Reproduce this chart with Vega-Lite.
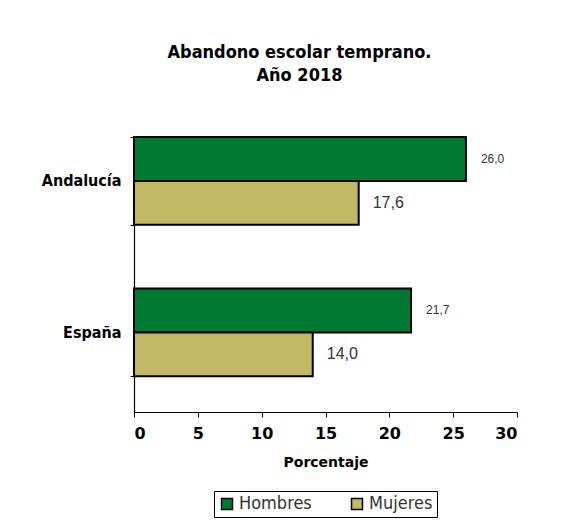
{
  "$schema": "https://vega.github.io/schema/vega-lite/v6.json",
  "width": 383,
  "height": 275,
  "padding": {"left": 41, "top": 44, "right": 5, "bottom": 5},
  "background": "white",
  "title": {
    "text": ["Abandono escolar temprano.", "Año 2018"],
    "font": "'DejaVu Sans Condensed', 'Liberation Sans', sans-serif",
    "fontSize": 18,
    "fontWeight": "bold",
    "color": "black",
    "anchor": "middle",
    "frame": "group",
    "dx": -26,
    "offset": 44,
    "lineHeight": 23
  },
  "data": {
    "values": [
      {"territorio": "Andalucía", "sexo": "Hombres", "porcentaje": 26.0},
      {"territorio": "Andalucía", "sexo": "Mujeres", "porcentaje": 17.6},
      {"territorio": "España", "sexo": "Hombres", "porcentaje": 21.7},
      {"territorio": "España", "sexo": "Mujeres", "porcentaje": 14.0}
    ]
  },
  "encoding": {
    "y": {
      "field": "territorio",
      "type": "nominal",
      "sort": ["Andalucía", "España"],
      "scale": {"paddingInner": 0.42, "paddingOuter": 0.1176, "align": 0},
      "axis": {
        "title": null,
        "domainColor": "black",
        "domainWidth": 1.2,
        "tickColor": "black",
        "tickSize": 4,
        "tickBand": "extent",
        "labelFont": "'DejaVu Sans Condensed', 'Liberation Sans', sans-serif",
        "labelFontSize": 16,
        "labelFontWeight": "bold",
        "labelColor": "black",
        "labelPadding": 9
      }
    },
    "yOffset": {
      "field": "sexo",
      "type": "nominal",
      "sort": ["Hombres", "Mujeres"],
      "scale": {"paddingInner": 0, "paddingOuter": 0}
    },
    "x": {
      "field": "porcentaje",
      "type": "quantitative",
      "scale": {"domain": [0, 30], "nice": false},
      "axis": {
        "values": [0, 5, 10, 15, 20, 25, 30],
        "format": "d",
        "grid": false,
        "title": "Porcentaje",
        "titleFont": "DejaVu Sans",
        "titleFontSize": 14,
        "titleFontWeight": "bold",
        "titleColor": "black",
        "titlePadding": 14,
        "domainColor": "black",
        "domainWidth": 1.2,
        "tickColor": "black",
        "tickSize": 5,
        "labelFont": "DejaVu Sans",
        "labelFontSize": 16,
        "labelFontWeight": "bold",
        "labelColor": "black",
        "labelPadding": 8
      }
    }
  },
  "layer": [
    {
      "mark": {"type": "bar", "stroke": "black", "strokeWidth": 2},
      "encoding": {
        "color": {
          "field": "sexo",
          "type": "nominal",
          "scale": {"domain": ["Hombres", "Mujeres"], "range": ["#007A33", "#C1B865"]},
          "legend": {
            "title": null,
            "orient": "bottom",
            "direction": "horizontal",
            "strokeColor": "black",
            "padding": 4,
            "offset": 22,
            "symbolType": "square",
            "symbolSize": 120,
            "symbolStrokeColor": "black",
            "symbolStrokeWidth": 1.5,
            "labelFont": "'DejaVu Sans Condensed', 'Liberation Sans', sans-serif",
            "labelFontSize": 18,
            "labelColor": "#333333",
            "labelOffset": 3,
            "columnPadding": 36
          }
        }
      }
    },
    {
      "transform": [{"filter": "datum.sexo === 'Hombres'"}],
      "mark": {
        "type": "text",
        "align": "left",
        "baseline": "middle",
        "dx": 15,
        "font": "Liberation Sans",
        "fontSize": 12,
        "color": "#333333"
      },
      "encoding": {
        "text": {"field": "porcentaje", "type": "quantitative", "format": ".1f"}
      }
    },
    {
      "transform": [{"filter": "datum.sexo === 'Mujeres'"}],
      "mark": {
        "type": "text",
        "align": "left",
        "baseline": "middle",
        "dx": 14,
        "font": "Liberation Sans",
        "fontSize": 16,
        "color": "#333333"
      },
      "encoding": {
        "text": {"field": "porcentaje", "type": "quantitative", "format": ".1f"}
      }
    }
  ],
  "config": {
    "view": {"stroke": null},
    "locale": {
      "number": {"decimal": ",", "thousands": ".", "grouping": [3], "currency": ["", " €"]}
    },
    "legend": {"layout": {"bottom": {"anchor": "middle"}}}
  }
}
